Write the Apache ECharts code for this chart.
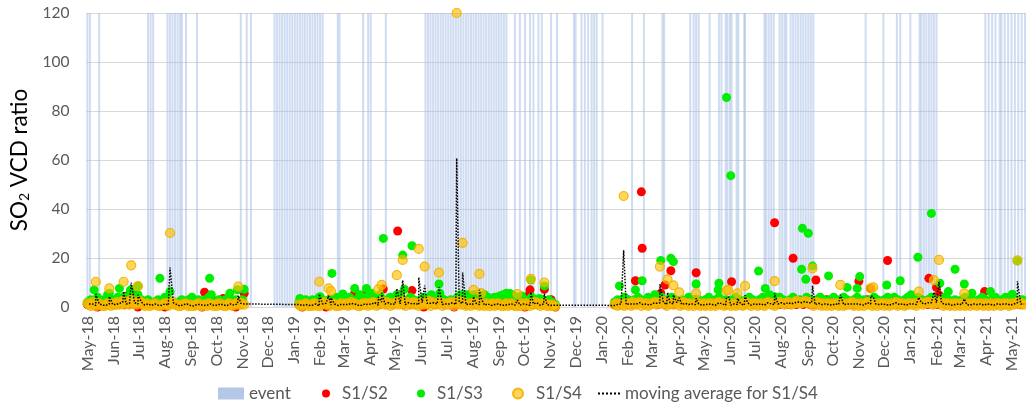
<!DOCTYPE html>
<html>
<head>
<meta charset="utf-8">
<script src="https://cdn.jsdelivr.net/npm/echarts@6/dist/echarts.min.js"></script>
<style>
  html, body { margin: 0; padding: 0; background: #ffffff; }
  #chart { width: 1026px; height: 407px; }
</style>
</head>
<body>
<div id="chart"></div>
<script>
// ---- Month tick labels along the time axis ----
const monthLabels = [
  'May-18','Jun-18','Jul-18','Aug-18','Sep-18','Oct-18','Nov-18','Dec-18',
  'Jan-19','Feb-19','Mar-19','Apr-19','May-19','Jun-19','Jul-19','Aug-19','Sep-19','Oct-19','Nov-19','Dec-19',
  'Jan-20','Feb-20','Mar-20','Apr-20','May-20','Jun-20','Jul-20','Aug-20','Sep-20','Oct-20','Nov-20','Dec-20',
  'Jan-21','Feb-21','Mar-21','Apr-21','May-21'
];
const axisStart = '2018-05-01';
const axisEnd = '2021-05-17';

// ---- Days flagged as events ----
const eventDates = [
  '2018-05-01','2018-05-04','2018-05-15',
  '2018-07-12','2018-07-15','2018-07-18',
  '2018-08-04','2018-08-07','2018-08-10','2018-08-13','2018-08-16','2018-08-19','2018-08-21','2018-08-26',
  '2018-09-08','2018-10-30','2018-11-06','2018-11-11',
  '2018-12-09','2018-12-12','2018-12-15','2018-12-18','2018-12-21','2018-12-24','2018-12-27','2018-12-30',
  '2019-01-02','2019-01-05','2019-01-08','2019-01-11','2019-01-14','2019-01-17','2019-01-20','2019-01-23',
  '2019-01-26','2019-01-29','2019-02-01','2019-02-04',
  '2019-02-22','2019-02-24','2019-03-24','2019-03-30','2019-04-02','2019-04-20',
  '2019-06-06','2019-06-09','2019-06-12','2019-06-15','2019-06-18','2019-06-21','2019-06-24','2019-06-27','2019-06-30',
  '2019-07-03','2019-07-06','2019-07-09','2019-07-12','2019-07-15','2019-07-18','2019-07-21','2019-07-24','2019-07-27','2019-07-30',
  '2019-08-02','2019-08-05','2019-08-08','2019-08-11','2019-08-14','2019-08-17','2019-08-20','2019-08-23','2019-08-26','2019-08-29',
  '2019-09-01','2019-09-04','2019-09-07','2019-09-10',
  '2019-09-20','2019-09-26','2019-10-02','2019-10-08','2019-10-12','2019-10-18','2019-10-22','2019-11-02','2019-11-09',
  '2019-11-29','2019-12-01','2019-12-08','2019-12-12','2019-12-16','2019-12-20','2019-12-23','2019-12-26',
  '2020-01-02','2020-02-06','2020-02-20','2020-03-13','2020-03-15',
  '2020-04-15','2020-04-19','2020-04-22','2020-04-25','2020-05-08',
  '2020-05-19','2020-05-22','2020-05-27','2020-05-29','2020-06-01','2020-06-03','2020-06-09','2020-06-11','2020-06-18','2020-06-19',
  '2020-07-12','2020-07-14','2020-07-17','2020-07-20','2020-07-23','2020-07-30','2020-08-02','2020-08-05','2020-08-07',
  '2020-08-12','2020-08-15','2020-08-18','2020-08-21','2020-08-24','2020-08-27','2020-08-30','2020-09-02','2020-09-05','2020-09-08',
  '2020-11-09','2020-11-30','2020-12-16','2020-12-20','2021-01-01',
  '2021-01-12','2021-01-14','2021-01-17','2021-01-20','2021-01-23','2021-01-26','2021-01-29','2021-02-01',
  '2021-03-31','2021-04-04','2021-04-08','2021-04-12','2021-04-17','2021-04-19','2021-04-23','2021-04-27',
  '2021-05-01','2021-05-05','2021-05-09','2021-05-13','2021-05-17'
];

// ---- Observation periods (first day of each run of daily retrievals) ----
const segStarts = ['2018-05-01', '2019-01-07', '2020-01-16'];

// ---- S1/S4: routine values, one every 2 days per period ----
const s4Step = 2;
const s4Seg1 = [
  1.5,1,0.5,2,1,0.3,1,1.5,1,0.5, 0.3,1,1.5,1,0.5,1.5,1,1,2,1, 1.5,2.5,1,1.5,2,1,3,1.5,2,1,
  1.5,2.5,1.5,1,0.5,1.5,1,0.3,1,1, 1.5,1,0.5,0.3,1,1,1.5,1,0.5,2, 1.5,2,1,1,0.5,0.3,1,1,1.5,1,
  0.3,1,0.5,0.3,1,1,1.5,0.5,0.3,1, 1,0.5,1.5,1,1,0.3,1,0.5,1.5,1, 1,0.5,0.3,1,1.5,1,0.5,1,1.5,1,
  2,1,1.5,1
];
const s4Seg2 = [
  1,0.3,1,0.5,1.5,1,0.3,1,0.5,1.5, 1,0.5,0.3,1,1.5,2,1,1.5,0.5,1, 1.5,1,0.3,1,0.5,1.5,1,
  1,1.5,0.5,1,2,1,1.5,1,0.5,0.3,1,1.5,1,1.5,0.5,
  1.5,1,2,1.5,0.5,1,1.5,2.5,1.5,1,2,1.5,0.5,1.5,1,
  1.5,2,1,1.5,2.5,1.5,0.5,2,1.5,1,1.5,2,1,1.5,0.5,1.5,
  2,1,1.5,1.5,2.5,0.5,2,1.5,1,1.5,2,1.5,0.5,1.5,1,
  1.5,1,2,1.5,0.5,1.5,2.5,1.5,1,2,1.5,0.5,1.5,1,0.5,1.5,
  2,1,1.5,0.5,1.5,1,0.5,1.5,1,0.3,1,1.5,0.5,1,1.5,
  1,0.5,0.3,1,1.5,0.5,1,1.5,1,0.5,0.3,1,0.5,1.5,1,
  0.5,1.5,1,0.5,1.5,1,2,1.5,1,0.5,1.5,1,1.5,0.5,1,0.3,
  1,0.5,0.3
];
const s4Seg3 = [
  1,1.5,0.5,1,1.5,1,0.5,1.5,
  1,1.5,0.5,2,1.5,1,1.5,2,0.5,1.5,1,1.5,0.5,1,1.5,
  1.5,2,1,1.5,2,1.5,2.5,1.5,0.5,2,1.5,1.5,1,2,1.5,
  1.5,0.5,1.5,2,1,1.5,0.5,1.5,1,0.5,1.5,1,1.5,0.5,1,
  1.5,0.5,1,1.5,0.5,1.5,1,0.5,1.5,2,1,1.5,0.5,1,1.5,1,
  0.5,1.5,1,0.5,1.5,1,1.5,0.5,1,2,1.5,1,0.5,1.5,1,
  1.5,0.5,1,1.5,1,0.5,1.5,2,1.5,1,1.5,0.5,1,1.5,2,1.5,
  1.5,1,1.5,2,1.5,1,1.5,2,2.5,1.5,2,1.5,2,2.5,2,
  1.5,2,1.5,0.5,1.5,2,1,1.5,0.5,1.5,1,0.5,1.5,1,0.5,
  1.5,1,1.5,0.5,1,1.5,0.5,1,1.5,1,1.5,2,0.5,1.5,1,0.5,
  1.5,1,0.5,1.5,2,1,1.5,0.5,1.5,1,0.5,1.5,1,1.5,0.5,
  1.5,1,0.5,1.5,1,1.5,2,0.5,1.5,1,1.5,0.5,1,1.5,1,1.5,
  1,1.5,0.5,1.5,2,1.5,1,1.5,2,1.5,2,1.5,1,1.5,2,
  1.5,2,1.5,0.5,1.5,1,1.5,0.5,1,1.5,0.5,1.5,1,0.5,
  1.5,1,0.5,1.5,1,0.5,1.5,1,1.5,0.5,1,1.5,1,0.5,1.5,1,
  0.5,1.5,1,0.5,1.5,1,1.5,0.5,1,1.5,1,1.5,0.5,1,1.5,
  1,1.5,2,1.5,1,1.5,1
];
// S1/S4 high readings [date, ratio]
const s4Peaks = [
  ['2018-05-11',10.3],['2018-05-27',7.6],['2018-06-13',10.3],['2018-06-22',17],['2018-06-30',8.5],
  ['2018-08-07',30.2],['2018-10-27',8.3],
  ['2019-01-31',10.3],['2019-02-11',7.6],['2019-02-14',6.5],['2019-04-11',7.2],['2019-04-15',9],
  ['2019-05-03',13],['2019-05-10',19.2],['2019-05-29',23.7],['2019-06-05',16.5],['2019-06-22',14],
  ['2019-07-13',120],['2019-07-20',26.2],['2019-08-02',7],['2019-08-09',13.5],['2019-08-11',5.7],
  ['2019-09-23',5.3],['2019-10-09',11.5],['2019-10-25',10],
  ['2020-01-27',45.3],['2020-03-10',16.5],['2020-03-19',11.3],['2020-03-26',8.8],['2020-04-02',6],
  ['2020-04-22',5.6],['2020-05-28',6.7],['2020-05-30',7],['2020-06-10',5.6],['2020-06-19',8.6],
  ['2020-07-24',10.6],['2020-09-07',15.8],['2020-10-10',9],['2020-11-15',7.6],['2020-11-18',8],
  ['2021-01-11',6.3],['2021-01-29',11],['2021-02-04',19.2],['2021-03-06',5.6],['2021-05-08',19]
];

// ---- S1/S3: routine values, one every 4 days per period ----
const s3Step = 4;
const s3Seg1 = [
  2,3,1,4,2,3,5,2,3,4, 3,2,4,3,2,5,3,2,3,1, 2,3,2,4,3,2,1,2,3,2, 3,4,2,3,2,3,4,2,1,3,
  2,3,4,2,3,2,3
];
const s3Seg2 = [
  2,1,3,2,3,2,4,3,2,3, 2,4,3,2,3,4,2,3,5,3, 4,2,3,4,5,3,2,4,3,5, 4,3,2,4,3,2,3,4,2,3,
  2,3,4,3,2,3,2,4,5,4, 5,4,5,3,4,5,4,3,4,3, 2,3,4,3,2,4,3,2,3,4, 3,2,3,2,3,2,1
];
const s3Seg3 = [
  2,3,2,4,3,2,3,4,3,2, 4,3,5,3,4,2,3,4,3,2, 3,2,4,3,2,3,2,3,4,2, 3,4,2,3,2,3,4,3,2,3,
  4,3,2,3,4,3,5,4,3,4, 3,2,3,4,2,3,2,4,3,2, 3,4,3,2,3,4,3,2,4,3, 2,3,4,2,3,2,3,4,3,2,
  3,4,3,4,3,2,3,4,5,3, 4,3,2,3,4,3,2,3,4,3, 2,3,2,3,4,2,3,2,3,4, 3,2,3,4,2,3,4,3,2,3,
  2,3
];
const s3Peaks = [
  ['2018-05-09',7],['2018-05-27',5.6],['2018-06-08',7.6],['2018-06-13',4.2],['2018-06-21',6.9],['2018-06-30',8.5],
  ['2018-07-26',11.7],['2018-08-07',6.3],['2018-09-23',11.7],['2018-09-25',5],['2018-10-17',5.6],['2018-10-26',7],['2018-11-03',7.2],
  ['2019-01-08',3.5],['2019-02-01',4.2],['2019-02-15',13.7],['2019-02-28',5.3],['2019-03-14',7.6],['2019-03-28',7.6],
  ['2019-04-03',5.6],['2019-04-17',28],['2019-05-10',21.2],['2019-05-12',7.2],['2019-05-21',25],['2019-06-13',5],
  ['2019-06-22',9.4],['2019-06-23',5.6],['2019-09-02',4.5],['2019-09-06',5],['2019-09-10',5.6],['2019-09-14',5.5],
  ['2019-09-18',4.8],['2019-09-28',4.5],['2019-10-09',11],['2019-10-19',3.5],['2019-10-25',8.6],
  ['2020-01-22',8.6],['2020-02-10',7],['2020-02-18',10.7],['2020-03-11',19],['2020-03-23',19.9],['2020-03-26',18.5],
  ['2020-04-22',9.4],['2020-05-18',7],['2020-05-19',9.7],['2020-05-28',85.5],['2020-06-02',53.6],['2020-07-05',14.7],
  ['2020-07-13',7.6],['2020-07-24',4.2],['2020-08-25',15.4],['2020-08-26',32.1],['2020-08-30',11.3],['2020-09-02',30.1],
  ['2020-09-07',16.7],['2020-09-26',12.7],['2020-10-18',8],['2020-10-30',7.6],['2020-11-02',12.4],['2020-12-04',9],
  ['2020-12-20',10.7],['2021-01-10',20.3],['2021-01-26',38.2],['2021-02-05',9.7],['2021-02-15',6.3],['2021-02-23',15.4],
  ['2021-03-06',9.4],['2021-03-15',5.6],['2021-04-06',6.3],['2021-05-02',5.2],['2021-05-08',18.8]
];

// ---- S1/S2: routine values, one every 4 days per period ----
const s2Step = 4;
const s2Seg1 = [
  1,2,1,0,1,2,1,3,2,1, 2,1,1,2,1,0,1,2,1,1, 2,1,1,0,1,2,1,1,2,1, 1,2,1,1,0,1,2,3,1,2,
  1,1,2,1,0,1,2
];
const s2Seg2 = [
  1,0,1,2,1,1,2,1,0,1, 2,1,3,1,2,1,2,3,1,2, 1,2,3,2,1,2,1,2,1,3, 2,1,2,1,1,2,1,0,1,2,
  1,1,2,1,2,1,0,1,2,1, 1,2,1,1,2,3,2,1,2,1, 2,1,3,2,1,2,1,0,1,2, 1,2,1,1,2,1,0
];
const s2Seg3 = [
  1,2,1,2,3,1,2,3,2,1, 2,3,2,1,2,1,2,1,1,2, 1,2,1,2,3,1,2,1,1,2, 1,2,2,1,2,1,1,2,1,2,
  3,2,1,2,1,2,3,1,2,1, 2,1,1,2,1,2,1,2,1,1, 2,1,2,3,1,2,1,2,1,1, 2,1,2,1,2,3,2,1,2,1,
  2,1,1,2,1,2,1,1,2,1, 2,3,2,1,2,1,1,2,1,2, 1,2,1,2,1,1,2,1,2,1, 2,1,2,3,2,1,2,1,1,2,
  1,2
];
const s2Peaks = [
  ['2018-06-19',4.9],['2018-06-29',5],['2018-09-17',6],['2018-10-09',3.5],['2018-11-03',5.6],
  ['2019-02-13',3.3],['2019-03-14',5.6],['2019-03-26',5],['2019-04-17',7.3],['2019-05-04',31],['2019-05-07',5],
  ['2019-05-21',6.7],['2019-10-07',5],['2019-10-08',7],['2019-10-25',7.2],['2019-11-02',3],
  ['2020-02-10',10.7],['2020-02-17',47],['2020-02-18',24],['2020-03-11',5.6],['2020-03-16',9],['2020-03-23',14.8],
  ['2020-04-22',14],['2020-06-03',10.3],['2020-07-24',34.4],['2020-08-15',19.9],['2020-09-11',11],
  ['2020-11-01',10.5],['2020-11-15',7.6],['2020-12-05',19],
  ['2021-01-11',3],['2021-01-23',11.7],['2021-02-01',8],['2021-02-04',4.9],['2021-03-30',6.3]
];

// ---- helpers ----
const MONTHS = ['Jan','Feb','Mar','Apr','May','Jun','Jul','Aug','Sep','Oct','Nov','Dec'];
const DAY = 86400000;
function toTime(s, addDays) {
  const p = s.split('-').map(Number);
  return new Date(p[0], p[1] - 1, p[2] + (addDays || 0)).getTime();
}
function labelKey(t) {
  const d = new Date(t);
  return MONTHS[d.getMonth()] + '-' + String(d.getFullYear() % 100).padStart(2, '0');
}
function runs(segs, step) {
  const out = [];
  segs.forEach((vals, k) => vals.forEach((v, i) => out.push([toTime(segStarts[k], i * step), v])));
  return out;
}
function withPeaks(base, peaks) {
  return base.concat(peaks.map(p => [toTime(p[0]), p[1]])).sort((a, b) => a[0] - b[0]);
}

const s2Data = withPeaks(runs([s2Seg1, s2Seg2, s2Seg3], s2Step), s2Peaks);
const s3Data = withPeaks(runs([s3Seg1, s3Seg2, s3Seg3], s3Step), s3Peaks);
const s4Data = withPeaks(runs([s4Seg1, s4Seg2, s4Seg3], s4Step), s4Peaks);
// two-point moving average of S1/S4
const maData = s4Data.slice(1).map((p, i) => [p[0], (p[1] + s4Data[i][1]) / 2]);
const eventData = eventDates.map(d => [toTime(d), 120]);
const shownLabels = new Set(monthLabels);

const FONT = 'Lato';
const GREY = '#595959';
const DOTS = 'path://M0,0h2v2h-2zM4,0h2v2h-2zM8,0h2v2h-2zM12,0h2v2h-2zM16,0h2v2h-2zM20,0h2v2h-2z';
const legendBase = {
  top: 380, orient: 'horizontal', selectedMode: false, itemGap: 0,
  textStyle: { color: GREY, fontSize: 17, fontFamily: FONT }
};

const chart = echarts.init(document.getElementById('chart'), null, { renderer: 'canvas' });
chart.setOption({
  animation: false,
  backgroundColor: '#ffffff',
  grid: { left: 80, right: 0, top: 13, bottom: 100 },
  legend: [
    Object.assign({}, legendBase, { left: 213, itemWidth: 26, itemHeight: 12,
      data: [{ name: 'event', icon: 'rect', itemStyle: { color: '#B4C7E7', opacity: 1 } }] }),
    Object.assign({}, legendBase, { left: 317, itemWidth: 8, itemHeight: 8,
      textStyle: Object.assign({}, legendBase.textStyle, { padding: [0, 0, 0, 7] }),
      data: [{ name: 'S1/S2', icon: 'circle' }] }),
    Object.assign({}, legendBase, { left: 412, itemWidth: 8, itemHeight: 8,
      textStyle: Object.assign({}, legendBase.textStyle, { padding: [0, 0, 0, 7] }),
      data: [{ name: 'S1/S3', icon: 'circle' }] }),
    Object.assign({}, legendBase, { left: 507, itemWidth: 10, itemHeight: 10,
      textStyle: Object.assign({}, legendBase.textStyle, { padding: [0, 0, 0, 8] }),
      data: [{ name: 'S1/S4', icon: 'circle' }] }),
    Object.assign({}, legendBase, { left: 593, itemWidth: 22, itemHeight: 2,
      data: [{ name: 'moving average for S1/S4', icon: DOTS, itemStyle: { color: '#000000' } }] })
  ],
  xAxis: {
    type: 'time',
    min: toTime(axisStart),
    max: toTime(axisEnd),
    splitNumber: 40,
    minInterval: 28 * DAY,
    maxInterval: 31 * DAY,
    axisLine: { show: true, lineStyle: { color: '#D9D9D9', width: 1 } },
    axisTick: { show: false },
    splitLine: { show: false },
    axisLabel: {
      formatter: function (v) { const k = labelKey(v); return shownLabels.has(k) ? k : ''; },
      rotate: 90,
      color: GREY,
      fontSize: 16,
      fontFamily: FONT,
      margin: 9,
      hideOverlap: false,
      showMaxLabel: false
    }
  },
  yAxis: {
    type: 'value',
    min: 0, max: 120, interval: 20,
    axisLine: { show: false },
    axisTick: { show: false },
    splitLine: { lineStyle: { color: '#D9D9D9', width: 1 } },
    axisLabel: { color: GREY, fontSize: 15.5, fontFamily: FONT, margin: 17 },
    name: '{a|SO}{b|2}{a| VCD ratio}',
    nameLocation: 'middle',
    nameGap: 38,
    nameRotate: 90,
    nameTextStyle: {
      color: '#000', fontFamily: FONT, fontSize: 22.5,
      rich: {
        a: { color: '#000', fontFamily: FONT, fontSize: 22.5 },
        b: { color: '#000', fontFamily: FONT, fontSize: 14, verticalAlign: 'bottom', padding: [10, 0, 0, 0] }
      }
    }
  },
  series: [
    {
      name: 'event', type: 'bar', data: eventData, barWidth: 2, silent: true, z: 1,
      itemStyle: { color: 'rgba(160,185,228,0.5)' }
    },
    {
      name: 'S1/S2', type: 'scatter', data: s2Data, symbolSize: 9, z: 2, progressive: 0,
      itemStyle: { color: '#FF0000', opacity: 1 }
    },
    {
      name: 'S1/S3', type: 'scatter', data: s3Data, symbolSize: 9, z: 3, progressive: 0,
      itemStyle: { color: '#00EE00', opacity: 1 }
    },
    {
      name: 'S1/S4', type: 'scatter', data: s4Data, symbolSize: 9, z: 4, progressive: 0,
      itemStyle: { color: 'rgba(255,192,0,0.65)', borderColor: 'rgba(240,176,0,0.9)', borderWidth: 1.2, opacity: 1 }
    },
    {
      name: 'moving average for S1/S4', type: 'line', data: maData, z: 5,
      symbol: 'none', showSymbol: false, progressive: 0,
      lineStyle: { color: '#000000', width: 1.5, type: [1.5, 1.5] },
      itemStyle: { color: '#000000' }
    }
  ]
});
</script>
</body>
</html>
